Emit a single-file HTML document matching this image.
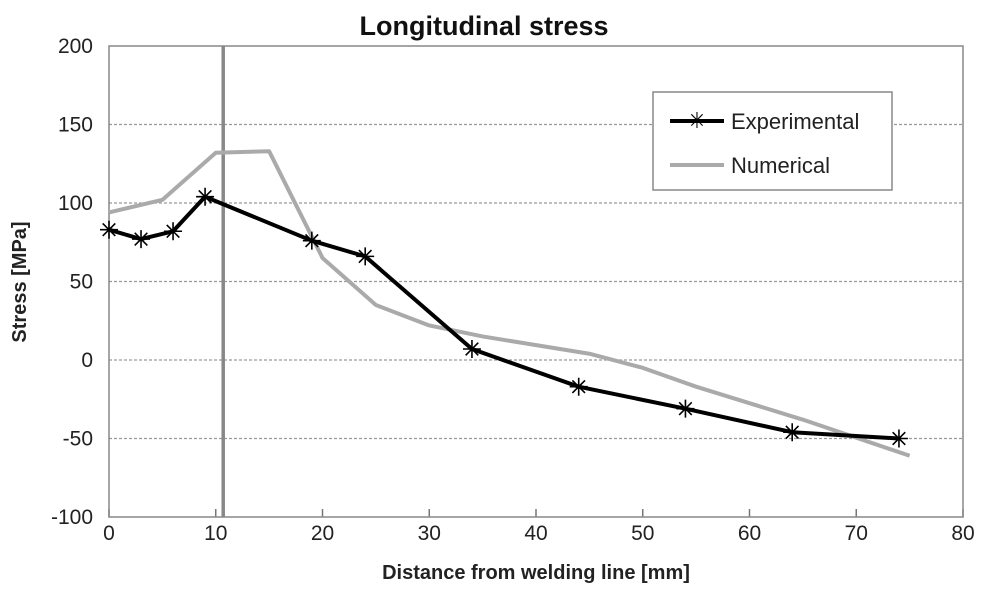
<!DOCTYPE html>
<html><head><meta charset="utf-8"><style>
body{margin:0;background:#fff;}
svg text{font-family:"Liberation Sans",sans-serif;}
</style></head><body>
<svg id="chart" width="984" height="591" xmlns="http://www.w3.org/2000/svg">
<text x="484" y="35" text-anchor="middle" font-size="27" font-weight="bold" fill="#111">Longitudinal stress</text>
<g id="grid"></g><g id="axes"></g><g id="series"></g>
<text x="536" y="579" text-anchor="middle" font-size="20" font-weight="bold" fill="#222">Distance from welding line [mm]</text>
<text transform="translate(26,282) rotate(-90)" text-anchor="middle" font-size="20" font-weight="bold" fill="#222">Stress [MPa]</text>
<g>
<rect x="653" y="92" width="239" height="98" fill="#fff" stroke="#888" stroke-width="1.5"/>
<line x1="670" y1="121" x2="724" y2="121" stroke="#000" stroke-width="4"/>
<text x="697" y="128" text-anchor="middle" font-size="22" fill="#000">✳</text>
<text x="731" y="129" font-size="22" fill="#222">Experimental</text>
<line x1="670" y1="165" x2="724" y2="165" stroke="#aaa" stroke-width="4"/>
<text x="731" y="173" font-size="22" fill="#222">Numerical</text>
</g>
</svg>
<script>
const xTicks=[0,10,20,30,40,50,60,70,80];
const yTicks=[-100,-50,0,50,100,150,200];
const expX=[0,3,6,9,19,24,34,44,54,64,74];
const expY=[83,77,82,104,76,66,7,-17,-31,-46,-50];
const numX=[0,5,10,15,20,25,30,35,45,50,55,65,75];
const numY=[94,102,132,133,65,35,22,15,4,-5,-17,-38,-61];
const weldLine=10.7;
const NS="http://www.w3.org/2000/svg";
const L=109,R=963,T=46,B=517;
const sx=v=>L+(v-0)/80*(R-L);
const sy=v=>B-(v+100)/300*(B-T);
function mk(tag,attrs,parent){const e=document.createElementNS(NS,tag);for(const k in attrs)e.setAttribute(k,attrs[k]);document.getElementById(parent).appendChild(e);return e;}
yTicks.forEach(t=>{
  if(t>-100&&t<200){const g=mk('line',{x1:L,x2:R,y1:sy(t),y2:sy(t),stroke:'#999','stroke-width':1.2,'stroke-dasharray':'3,2'},'grid');
  
  }
  const tx=mk('text',{x:93,y:sy(t)+7,'text-anchor':'end','font-size':21,fill:'#222'},'axes');tx.textContent=t;
  
  
});
xTicks.forEach(t=>{
  const tk=mk('line',{x1:sx(t),x2:sx(t),y1:B,y2:B-8,stroke:'#777','stroke-width':1.5},'axes');
  
  
  const tx=mk('text',{x:sx(t),y:B+23,'text-anchor':'middle','font-size':21,fill:'#222'},'axes');tx.textContent=t;
  
  
});
const box=mk('rect',{x:L,y:T,width:R-L,height:B-T,fill:'none',stroke:'#888','stroke-width':1.5},'axes');


const wl=mk('line',{x1:sx(weldLine),x2:sx(weldLine),y1:T,y2:B,stroke:'#888','stroke-width':3.5},'series');


const np=mk('polyline',{points:numX.map((x,i)=>sx(x)+','+sy(numY[i])).join(' '),fill:'none',stroke:'#aaa','stroke-width':4,'stroke-linejoin':'round'},'series');


const ep=mk('polyline',{points:expX.map((x,i)=>sx(x)+','+sy(expY[i])).join(' '),fill:'none',stroke:'#000','stroke-width':4,'stroke-linejoin':'round'},'series');


expX.forEach((x,i)=>{
  const cx=sx(x),cy=sy(expY[i]),r=9;
  const p=mk('path',{d:`M${cx-r},${cy}H${cx+r}M${cx-r*0.7},${cy-r*0.7}L${cx+r*0.7},${cy+r*0.7}M${cx-r*0.7},${cy+r*0.7}L${cx+r*0.7},${cy-r*0.7}M${cx},${cy-r}V${cy+r}`,stroke:'#000','stroke-width':1.6},'series');
  
  
});
</script>
</body></html>
